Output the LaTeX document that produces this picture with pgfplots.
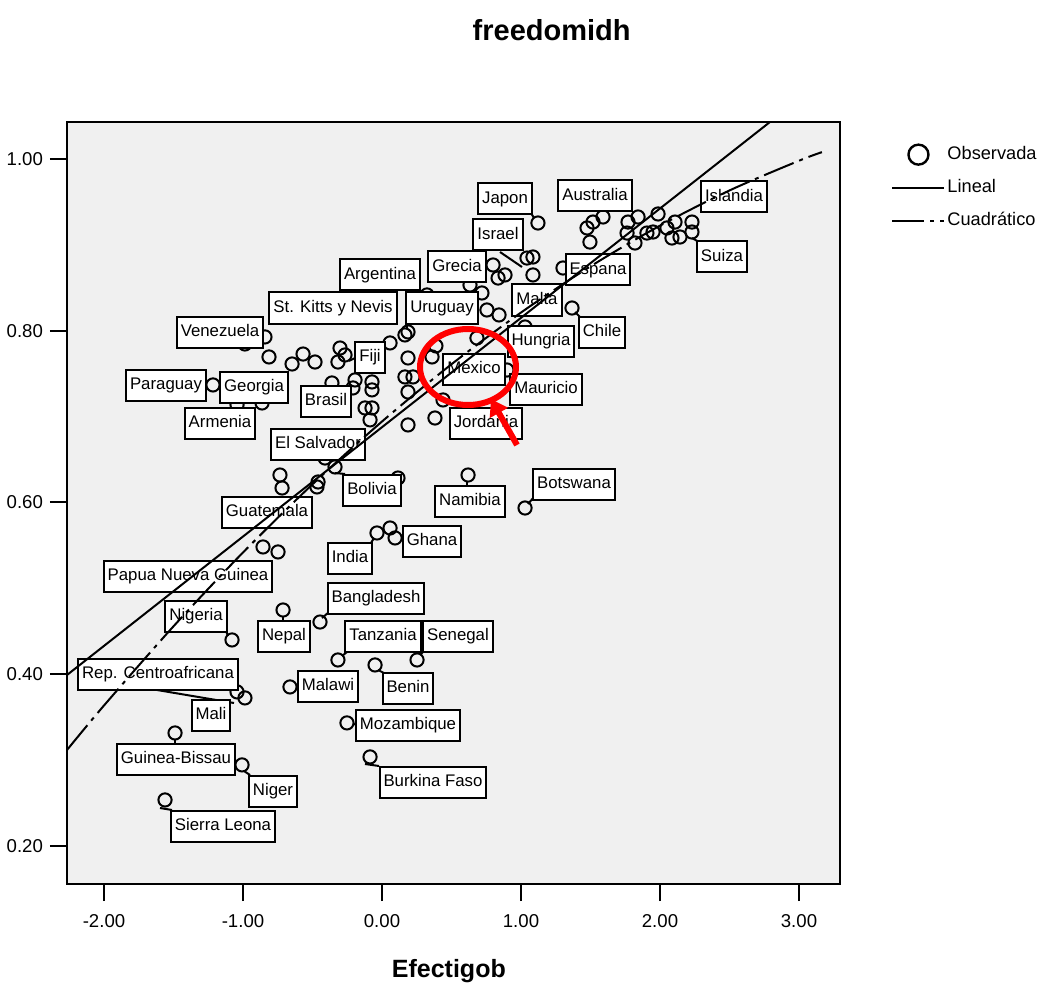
\documentclass[border=0pt]{standalone}
\usepackage{pgfplots}
\pgfplotsset{compat=1.18}
\usepackage{fontspec}
\setmainfont{Liberation Sans}
\usetikzlibrary{arrows.meta}
\definecolor{plotbg}{RGB}{240,240,240}
\newcommand\lab[3]{\node[lbl] at (#1,#2) {#3};}
\pgfplotsset{
  circlegend/.style={legend image code/.code={\draw[##1] plot coordinates {(13pt,0pt)};}},
  linelegend/.style={legend image code/.code={\draw[##1] (0pt,0pt) -- (26pt,0pt);}},
}
\begin{document}
\begin{tikzpicture}
\begin{axis}[
  at={(0,0)}, anchor=south west,
  scale only axis, width=386.5pt, height=381pt,
  xmin=-2.2662, xmax=3.2950, ymin=0.1557, ymax=1.0431,
  axis background/.style={fill=plotbg},
  axis line style={line width=0.9pt},
  xtick={-2,-1,0,1,2,3}, ytick={0.2,0.4,0.6,0.8,1.0},
  xticklabels={-2.00,-1.00,0.00,1.00,2.00,3.00},
  yticklabels={0.20,0.40,0.60,0.80,1.00},
  xtick pos=bottom, ytick pos=left,
  tick align=outside, major tick length=8.5pt,
  tick style={black, line width=1pt},
  ticklabel style={font=\fontsize{9.3}{10}\selectfont},
  xticklabel style={yshift=-3pt},
  title={freedomidh},
  title style={at={(axis description cs:0.627,1.1207)}, anchor=center, yshift=-6pt, font=\fontsize{14.5}{16}\selectfont\bfseries},
  xlabel={Efectigob},
  xlabel style={at={(axis description cs:0.494,-0.1142)}, anchor=center, font=\fontsize{12.5}{14}\selectfont\bfseries},
]
\addplot[only marks, mark=o, mark size=3.3pt, mark options={line width=1pt, black}] coordinates {
(1.122,0.9255) (1.043,0.8847) (1.086,0.8859) (1.086,0.8650) (0.799,0.8766) (0.885,0.8650) (0.835,0.8614) (0.633,0.8533) (0.719,0.8440) (0.755,0.8242) (0.842,0.8184) (0.683,0.7916) (0.388,0.7823) (0.360,0.7695) (1.302,0.8731) (1.367,0.8265) (1.029,0.8044) (1.475,0.9197) (1.518,0.9266) (1.590,0.9325) (1.496,0.9033) (1.770,0.9266) (1.842,0.9325) (1.986,0.9360) (1.763,0.9138) (1.820,0.9022) (1.906,0.9138) (1.950,0.9150) (2.050,0.9197) (2.108,0.9266) (2.086,0.9080) (2.144,0.9092) (2.230,0.9266) (2.230,0.9150) (0.324,0.8417) (0.899,0.7543) (0.439,0.7194) (0.165,0.7951) (0.187,0.7986) (0.058,0.7858) (0.187,0.7683) (0.165,0.7462) (0.223,0.7462) (0.187,0.7287) (0.187,0.6903) (0.381,0.6984) (-0.194,0.7427) (-0.209,0.7334) (-0.072,0.7404) (-0.072,0.7311) (-0.122,0.7101) (-0.072,0.7101) (-0.086,0.6962) (-0.360,0.7392) (-0.302,0.7799) (-0.266,0.7718) (-0.317,0.7636) (-0.482,0.7636) (-0.568,0.7729) (-0.647,0.7613) (-0.813,0.7695) (-0.842,0.7928) (-0.986,0.7846) (-1.216,0.7369) (-1.043,0.7136) (-0.863,0.7159) (-0.734,0.6320) (-0.719,0.6169) (-0.460,0.6239) (-0.468,0.6181) (-0.338,0.6414) (-0.410,0.6518) (0.115,0.6285) (0.619,0.6320) (1.029,0.5936) (-0.856,0.5482) (-0.748,0.5424) (-0.036,0.5645) (0.058,0.5703) (0.094,0.5587) (-0.712,0.4748) (-0.446,0.4608) (-1.079,0.4399) (-0.317,0.4166) (-0.050,0.4108) (0.252,0.4166) (-0.662,0.3852) (-1.043,0.3794) (-0.986,0.3724) (-0.252,0.3433) (-1.489,0.3316) (-0.086,0.3037) (-1.007,0.2944) (-1.561,0.2536)
};
\end{axis}
% labels and leader lines, in reference pixel units
\begin{scope}[x=0.5pt,y=-0.5pt,xshift=-33.5pt,yshift=442pt,
  lbl/.style={draw, fill=white, line width=1pt, font=\fontsize{8.4}{9}\selectfont,
    inner xsep=2pt, inner ysep=3.7pt, text height=6.3pt, text depth=1.8pt}]
\begin{scope}[line width=1pt]
\draw (531,213)--(534,218);
\draw (500,252)--(522,267);
\draw (699,242)--(692,238);
\draw (580,317)--(575,312);
\draw (407,293)--(407,328);
\draw (335,473)--(345,474);
\draw (467,482)--(467,486);
\draw (534,497)--(528,504);
\draw (401,540)--(404,540);
\draw (371,543)--(374,538);
\draw (329,612)--(322,618);
\draw (283,617)--(283,621);
\draw (226,631)--(228,636);
\draw (347,652)--(342,656);
\draw (424,651)--(420,655);
\draw (378,670)--(384,673);
\draw (297,687)--(300,687);
\draw (157,690)--(234,703);
\draw (354,724)--(357,725);
\draw (175,740)--(175,744);
\draw (244,771)--(250,775);
\draw (365,764)--(379,766);
\draw (160,808)--(172,810);
\draw (355,358)--(349,361);
\end{scope}
\lab{505}{199}{Japon}
\lab{595}{196}{Australia}
\lab{734}{197}{Islandia}
\lab{498}{235}{Israel}
\lab{722}{257}{Suiza}
\lab{380}{275}{Argentina}
\lab{457}{267}{Grecia}
\lab{598}{270}{Espana}
\lab{333}{308}{St. Kitts y Nevis}
\lab{442}{308}{Uruguay}
\lab{537}{300}{Malta}
\lab{220}{332}{Venezuela}
\lab{602}{332}{Chile}
\lab{541}{341}{Hungria}
\lab{370}{357}{Fiji}
\lab{474}{369}{Mexico}
\lab{166}{385}{Paraguay}
\lab{254}{387}{Georgia}
\lab{546}{389}{Mauricio}
\lab{326}{401}{Brasil}
\lab{220}{423}{Armenia}
\lab{486}{423}{Jordania}
\lab{318}{444}{El Salvador}
\lab{372}{490}{Bolivia}
\lab{574}{484}{Botswana}
\lab{470}{501}{Namibia}
\lab{267}{512}{Guatemala}
\lab{432}{541}{Ghana}
\lab{350}{558}{India}
\lab{188}{576}{Papua Nueva Guinea}
\lab{376}{598}{Bangladesh}
\lab{196}{616}{Nigeria}
\lab{284}{636}{Nepal}
\lab{383}{636}{Tanzania}
\lab{458}{636}{Senegal}
\lab{158}{674}{Rep. Centroafricana}
\lab{328}{686}{Malawi}
\lab{408}{688}{Benin}
\lab{211}{715}{Mali}
\lab{408}{725}{Mozambique}
\lab{176}{759}{Guinea-Bissau}
\lab{273}{791}{Niger}
\lab{433}{782}{Burkina Faso}
\lab{223}{826}{Sierra Leona}
\end{scope}
% fit lines and legend, drawn over the labels
\begin{axis}[
  at={(0,0)}, anchor=south west,
  scale only axis, width=386.5pt, height=381pt,
  xmin=-2.2662, xmax=3.2950, ymin=0.1557, ymax=1.0431,
  hide axis, clip=true,
  legend style={at={(1.0583,0.9774)}, anchor=north west, draw=none, fill=none,
    font=\fontsize{9.1}{11}\selectfont, row sep=5.5pt,
    nodes={inner sep=1pt, text height=7pt, text depth=2pt}},
  legend cell align=left,
  linelegend,
]
\addlegendimage{only marks, mark=o, mark size=5pt, mark options={line width=1.2pt, black}, circlegend}
\addlegendentry{Observada}
\addplot[black, line width=1pt] coordinates {(-2.2662,0.3991) (2.791,1.0431)};
\addlegendentry{Lineal}
\addplot[black, line width=1pt, smooth, dash pattern=on 16pt off 3pt on 2pt off 3pt] coordinates {
(-2.266,0.3118) (-2.0,0.3636) (-1.5,0.4558) (-1.0,0.5418) (-0.5,0.6212) (0.0,0.6943) (0.5,0.7610) (1.0,0.8212) (1.5,0.8750) (2.0,0.9224) (2.5,0.9634) (3.0,0.9980) (3.165,1.0080)
};
\addlegendentry{Cuadr\'atico}
\end{axis}
% red highlight
\begin{scope}[x=0.5pt,y=-0.5pt,xshift=-33.5pt,yshift=442pt]
\draw[red, line width=3pt] (468,367) ellipse [x radius=24pt, y radius=19pt];
\draw[red, line width=3pt, -{Triangle[width=10pt,length=8pt]}] (517,445) -- (491,399);
\end{scope}
% page frame: 1045 x 982 px at 0.5pt per px
\pgfresetboundingbox
\begin{scope}[x=0.5pt,y=-0.5pt,xshift=-33.5pt,yshift=442pt]
\path (0,0) rectangle (1045,982);
\end{scope}
\end{tikzpicture}
\end{document}
